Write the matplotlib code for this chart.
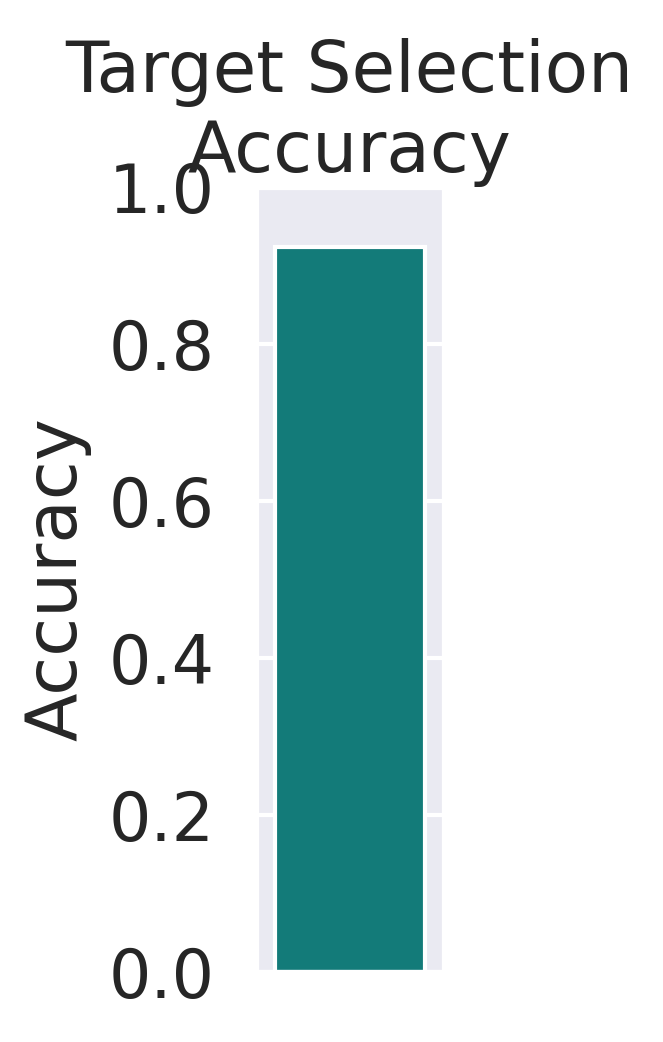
import matplotlib
matplotlib.use("Agg")
import matplotlib.pyplot as plt
import seaborn as sns

categories = ["Target Selection"]
accuracy = [0.923]

sns.set_theme(style="darkgrid")
plt.rcParams['font.family'] = ['DejaVu Sans']

fig = plt.figure(figsize=(663/300, 1042/300), dpi=300)
ax = fig.add_axes([0.386, 0.067, 0.283, 0.754])
ax.bar(range(len(categories)), accuracy, width=0.8, color="#137b79", edgecolor="white", linewidth=1)
ax.set_xlim(-0.5, 0.5)
ax.set_ylim(0, 1.0)
ax.set_xticks([])
ax.set_yticks([0, 0.2, 0.4, 0.6, 0.8, 1.0])
ax.tick_params(axis='y', labelsize=16, pad=4)
ax.set_ylabel("Accuracy", fontsize=17, labelpad=4)
ax.set_title("Target Selection\nAccuracy", fontsize=17, pad=3)
fig.savefig("out.png", dpi=300)
